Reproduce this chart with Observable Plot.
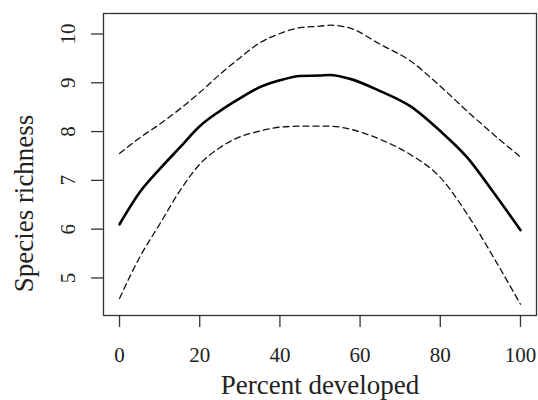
<!DOCTYPE html>
<html>
<head>
<meta charset="utf-8">
<script src="https://cdn.jsdelivr.net/npm/d3@7"></script>
<script src="https://cdn.jsdelivr.net/npm/@observablehq/plot@0.6"></script>
<style>
  html, body { margin: 0; padding: 0; background: #fff; }
  #chart svg { display: block; }
  #chart svg text { font-family: "Liberation Serif", "Times New Roman", serif; }
</style>
</head>
<body>
<div id="chart"></div>
<script>
const percentDeveloped = [0, 5, 10, 15, 20, 25, 30, 35, 40, 45, 50, 52.5, 57.5, 65, 72.5, 80, 86.7, 93.3, 100];
const richnessFit   = [6.10, 6.75, 7.23, 7.67, 8.11, 8.42, 8.68, 8.91, 9.05, 9.14, 9.15, 9.16, 9.08, 8.83, 8.52, 8.01, 7.47, 6.75, 5.98];
const richnessUpper = [7.55, 7.87, 8.15, 8.46, 8.80, 9.17, 9.51, 9.82, 10.01, 10.13, 10.16, 10.18, 10.12, 9.79, 9.45, 8.93, 8.42, 7.94, 7.48];
const richnessLower = [4.58, 5.42, 6.10, 6.78, 7.33, 7.67, 7.89, 8.01, 8.09, 8.11, 8.11, 8.11, 8.05, 7.84, 7.53, 7.06, 6.31, 5.42, 4.46];
const xTicks = [0, 20, 40, 60, 80, 100];
const yTicks = [5, 6, 7, 8, 9, 10];
const xTitle = "Percent developed";
const yTitle = "Species richness";

const rows = percentDeveloped.map((x, i) => ({x, fit: richnessFit[i], upper: richnessUpper[i], lower: richnessLower[i]}));
const font = "'Liberation Serif', 'Times New Roman', serif";
const ink = "#222";

const chart = Plot.plot({
  width: 538,
  height: 400,
  marginLeft: 103,
  marginRight: 2,
  marginTop: 13,
  marginBottom: 85,
  style: {fontFamily: font, background: "#fff", color: ink},
  x: {domain: [-4, 104]},
  y: {domain: [4.23, 10.42]},
  marks: [
    Plot.frame({stroke: "#333", strokeWidth: 1.3}),
    Plot.axisX(xTicks, {tickSize: 12, tickPadding: 20, fontSize: 21, stroke: "#333", strokeWidth: 1.3, fill: ink, label: null}),
    Plot.axisY(yTicks, {tickSize: 12, text: null, stroke: "#333", strokeWidth: 1.3, label: null}),
    Plot.text(yTicks, {y: d => d, text: d => String(d), frameAnchor: "left", textAnchor: "middle", dx: -35, rotate: -90, fontSize: 21, fill: ink}),
    Plot.text([xTitle], {text: d => d, frameAnchor: "bottom", lineAnchor: "bottom", dy: 78, fontSize: 27, fill: ink}),
    Plot.text([yTitle], {text: d => d, frameAnchor: "left", textAnchor: "middle", rotate: -90, dx: -79, dy: 39, fontSize: 27, fill: ink}),
    Plot.line(rows, {x: "x", y: "upper", stroke: "#111", strokeWidth: 1.3, strokeDasharray: "6,4", curve: "monotone-x"}),
    Plot.line(rows, {x: "x", y: "lower", stroke: "#111", strokeWidth: 1.3, strokeDasharray: "6,4", curve: "monotone-x"}),
    Plot.line(rows, {x: "x", y: "fit", stroke: "#000", strokeWidth: 2.6, curve: "monotone-x"})
  ]
});
document.getElementById("chart").appendChild(chart);
</script>
</body>
</html>
